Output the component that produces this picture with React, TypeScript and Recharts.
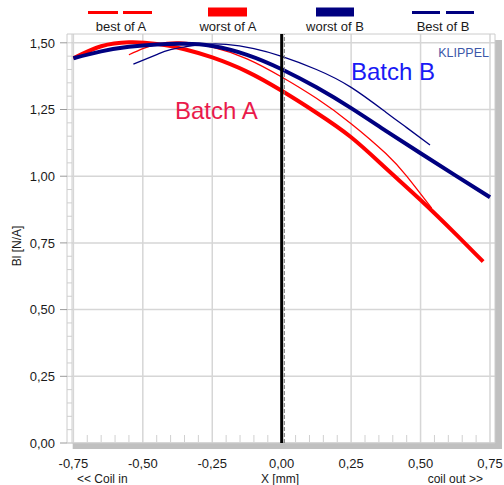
import { CartesianGrid, Line, LineChart, ReferenceArea, ReferenceLine, XAxis, YAxis } from "recharts";

const FONT = '"Liberation Sans", Arial, sans-serif';
const RED = "#ff0000";
const NAVY = "#000080";

// series (x in mm, Bl in N/A)
const WORST_A_X = [-0.75, -0.65, -0.55, -0.45, -0.35, -0.25, -0.125, 0, 0.125, 0.25, 0.375, 0.5, 0.625, 0.725];
const WORST_A_Y = [1.442, 1.487, 1.502, 1.496, 1.476, 1.445, 1.392, 1.32, 1.238, 1.146, 1.03, 0.911, 0.785, 0.68];
const BEST_A_X = [-0.55, -0.5, -0.45, -0.37, -0.25, -0.125, 0, 0.125, 0.25, 0.375, 0.45, 0.54];
const BEST_A_Y = [1.455, 1.478, 1.494, 1.503, 1.484, 1.44, 1.372, 1.292, 1.197, 1.085, 1.0, 0.88];
const WORST_B_X = [-0.75, -0.65, -0.55, -0.45, -0.35, -0.25, -0.125, 0, 0.125, 0.25, 0.375, 0.5, 0.625, 0.75];
const WORST_B_Y = [1.442, 1.468, 1.485, 1.494, 1.496, 1.488, 1.455, 1.401, 1.333, 1.255, 1.17, 1.086, 1.003, 0.921];
const BEST_B_X = [-0.534, -0.45, -0.4, -0.3, -0.2, -0.1, 0, 0.125, 0.25, 0.375, 0.45, 0.534];
const BEST_B_Y = [1.42, 1.456, 1.474, 1.492, 1.494, 1.478, 1.449, 1.4, 1.333, 1.24, 1.182, 1.117];

const SERIES_NAMES = ["best of A", "worst of A", "worst of B", "Best of B"];
const X_MAJOR = [-0.75, -0.5, -0.25, 0, 0.25, 0.5, 0.75];
const Y_MAJOR = [0, 0.25, 0.5, 0.75, 1, 1.25, 1.5];
const X_MINOR = Array.from({ length: 31 }, (_, i) => (i - 15) / 20);
const Y_MINOR = Array.from({ length: 31 }, (_, i) => i / 20);

// plot box in px and the matching domains
const PLOT = { left: 72, right: 495, top: 34, bottom: 443 };
const X_MIN = -0.755;
const X_MAX = 0.768;
const Y_MAX = 1.533;
const xAt = (px: number) => X_MIN + ((px - PLOT.left) / (PLOT.right - PLOT.left)) * (X_MAX - X_MIN);
const yAt = (px: number) => ((PLOT.bottom - px) / (PLOT.bottom - PLOT.top)) * Y_MAX;

const zip = (xs: number[], ys: number[]) => xs.map((x, i) => ({ x, y: ys[i] }));
const fmt = (v: number) => v.toFixed(2).replace(".", ",");
const isMajor = (v: number, step: number) => Math.abs(v / step - Math.round(v / step)) < 1e-6;

function YTick({ x, y, payload }: any) {
  const v = payload.value;
  const major = isMajor(v, 0.25);
  return (
    <g>
      <line x1={x - 5} x2={x} y1={y} y2={y} stroke="#cfcfcf" />
      {major && <line x1={x - 12} x2={x - 5} y1={y} y2={y} stroke="#9a9a9a" />}
      {major && (
        <text x={x - 17} y={y + 4.7} textAnchor="end" fontSize={13} fill="#1a1a1a" fontFamily={FONT}>
          {fmt(v)}
        </text>
      )}
    </g>
  );
}

function XTick({ x, y, payload }: any) {
  const v = payload.value;
  const major = isMajor(v, 0.25);
  return (
    <g>
      {!major && <line x1={x} x2={x} y1={y - 8} y2={y - 1} stroke="#d0d0d0" />}
      {major && (
        <text x={x} y={y + 25} textAnchor="middle" fontSize={13} fill="#1a1a1a" fontFamily={FONT}>
          {fmt(v)}
        </text>
      )}
    </g>
  );
}

function Overlay() {
  const t = { fontFamily: FONT, fill: "#1a1a1a" };
  return (
    <svg width={504} height={485} style={{ position: "absolute", left: 0, top: 0, pointerEvents: "none" }}>
      {/* legend */}
      <line x1={88} x2={152} y1={12.5} y2={12.5} stroke={RED} strokeWidth={3} strokeDasharray="30 5" />
      <rect x={208} y={7.5} width={39} height={9} fill={RED} />
      <rect x={316} y={7.5} width={38} height={9} fill={NAVY} />
      <line x1={412} x2={474} y1={12.5} y2={12.5} stroke={NAVY} strokeWidth={3} strokeDasharray="28 6" />
      {SERIES_NAMES.map((n, i) => (
        <text key={n} x={[121, 228, 335, 443][i]} y={30.5} textAnchor="middle" fontSize={13} {...t}>
          {n}
        </text>
      ))}
      {/* annotations */}
      <text x={175} y={119} fontSize={24} fontFamily={FONT} fill="#ea1a4b">Batch A</text>
      <text x={351} y={80} fontSize={24} fontFamily={FONT} fill="#1a1af5">Batch B</text>
      <text x={489} y={56.5} textAnchor="end" fontSize={12.5} fontFamily={FONT} fill="#3c57a8">KLIPPEL</text>
      {/* axis titles */}
      <text transform="translate(20.5,246) rotate(-90)" textAnchor="middle" fontSize={12} {...t}>Bl [N/A]</text>
      <text x={77} y={482.5} fontSize={12} {...t}>{"<< Coil in"}</text>
      <text x={280} y={482.5} textAnchor="middle" fontSize={12} {...t}>X [mm]</text>
      <text x={483} y={482.5} textAnchor="end" fontSize={12} {...t}>{"coil out >>"}</text>
    </svg>
  );
}

export default function App() {
  return (
    <div style={{ position: "absolute", left: 0, top: 0, width: 504, height: 485, background: "#fff" }}>
      <LineChart
        width={504}
        height={485}
        margin={{ top: PLOT.top, right: 504 - PLOT.right, bottom: 0, left: 0 }}
      >
        {/* drop shadow of the frame */}
        <ReferenceArea x1={xAt(72.7)} x2={xAt(502)} y1={yAt(449)} y2={yAt(443)} fill="#c0c0c0" fillOpacity={1} stroke="none" ifOverflow="visible" />
        <ReferenceArea x1={X_MAX} x2={xAt(502)} y1={yAt(449)} y2={yAt(40)} fill="#c0c0c0" fillOpacity={1} stroke="none" ifOverflow="visible" />
        <CartesianGrid horizontalValues={Y_MAJOR} verticalValues={X_MAJOR} stroke="#d6d6d6" strokeWidth={1.5} />
        <ReferenceArea x1={xAt(67)} x2={X_MAX} y1={0} y2={Y_MAX} fill="none" fillOpacity={0} stroke="#cccccc" ifOverflow="visible" />
        <XAxis
          type="number"
          dataKey="x"
          domain={[X_MIN, X_MAX]}
          ticks={X_MINOR}
          interval={0}
          height={485 - PLOT.bottom}
          tickSize={0}
          tickMargin={0}
          axisLine={false}
          tickLine={false}
          tick={<XTick />}
          allowDataOverflow
        />
        <YAxis
          type="number"
          domain={[0, Y_MAX]}
          ticks={Y_MINOR}
          interval={0}
          width={PLOT.left}
          tickSize={0}
          tickMargin={0}
          axisLine={{ stroke: "#cfcfcf" }}
          tickLine={false}
          tick={<YTick />}
          allowDataOverflow
        />
        <Line data={zip(BEST_A_X, BEST_A_Y)} dataKey="y" name={SERIES_NAMES[0]} type="natural" stroke={RED} strokeWidth={1.3} dot={false} isAnimationActive={false} />
        <Line data={zip(WORST_A_X, WORST_A_Y)} dataKey="y" name={SERIES_NAMES[1]} type="natural" stroke={RED} strokeWidth={4} dot={false} isAnimationActive={false} />
        <Line data={zip(WORST_B_X, WORST_B_Y)} dataKey="y" name={SERIES_NAMES[2]} type="natural" stroke={NAVY} strokeWidth={4} dot={false} isAnimationActive={false} />
        <Line data={zip(BEST_B_X, BEST_B_Y)} dataKey="y" name={SERIES_NAMES[3]} type="natural" stroke={NAVY} strokeWidth={1.3} dot={false} isAnimationActive={false} />
        <ReferenceLine x={0.0095} stroke="#777" strokeDasharray="4 2" />
        <ReferenceLine x={0} stroke="#000" strokeWidth={3} />
      </LineChart>
      <Overlay />
    </div>
  );
}
